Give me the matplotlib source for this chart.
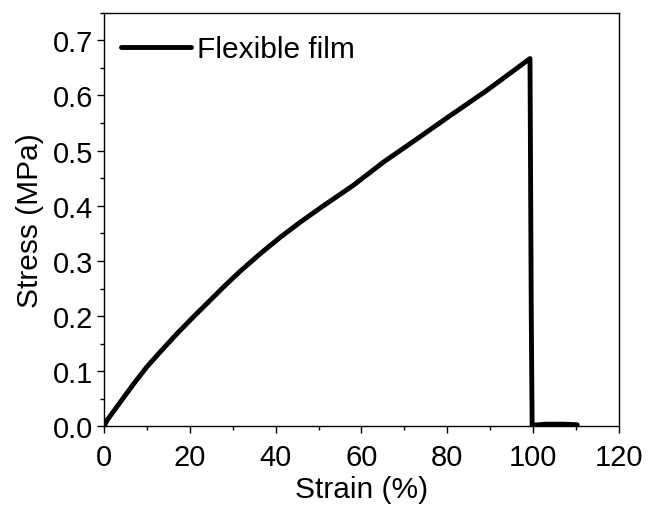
import numpy as np
import matplotlib
matplotlib.use("Agg")
import matplotlib.pyplot as plt
from matplotlib.ticker import MultipleLocator, FormatStrFormatter

plt.rcParams['font.family'] = ['Liberation Sans', 'DejaVu Sans']

# tensile curve of the film, strain in %, stress in MPa
strain = [0, 0.7, 3.8, 6.9, 10.0, 13.1, 17.0, 20.9, 24.8, 27.9, 31.7, 36.4,
          41.1, 45.7, 50.4, 56.6, 58.1, 65.1, 72.9, 80.6, 89.2, 99.3, 99.6,
          99.8, 103.0, 107.0, 110.3]
stress = [0, 0.011, 0.044, 0.077, 0.108, 0.135, 0.168, 0.199, 0.229, 0.253,
          0.281, 0.313, 0.343, 0.370, 0.396, 0.429, 0.437, 0.479, 0.521,
          0.563, 0.609, 0.667, 0.200, 0.002, 0.004, 0.004, 0.003]

fig = plt.figure(figsize=(6.5, 5.1), dpi=100)
ax = fig.add_axes([0.16, 0.162, 0.792, 0.811])

ax.plot(strain, stress, color='black', lw=3.5, solid_joinstyle='round',
        solid_capstyle='round', label='Flexible film')

ax.set_xlim(0, 120)
ax.set_ylim(0, 0.75)
ax.xaxis.set_major_locator(MultipleLocator(20))
ax.xaxis.set_minor_locator(MultipleLocator(10))
ax.yaxis.set_major_locator(MultipleLocator(0.1))
ax.yaxis.set_minor_locator(MultipleLocator(0.05))
ax.yaxis.set_major_formatter(FormatStrFormatter('%.1f'))

ax.tick_params(which='major', direction='out', length=5, width=1,
               labelsize=21, top=False, right=False)
ax.tick_params(axis='x', which='major', pad=7)
ax.tick_params(axis='y', which='major', pad=3)
ax.tick_params(which='minor', direction='out', length=3, width=1,
               top=False, right=False)
for s in ax.spines.values():
    s.set_linewidth(1)

ax.set_xlabel('Strain (%)', fontsize=21.5, labelpad=3)
ax.set_ylabel('Stress (MPa)', fontsize=21.5, labelpad=6)

ax.legend(loc='upper left', bbox_to_anchor=(-0.01, 1.0), frameon=False,
          fontsize=21.5, handlelength=2.35, handletextpad=0.2,
          borderaxespad=0.15, borderpad=0.6)

fig.savefig('out.png', dpi=100)
